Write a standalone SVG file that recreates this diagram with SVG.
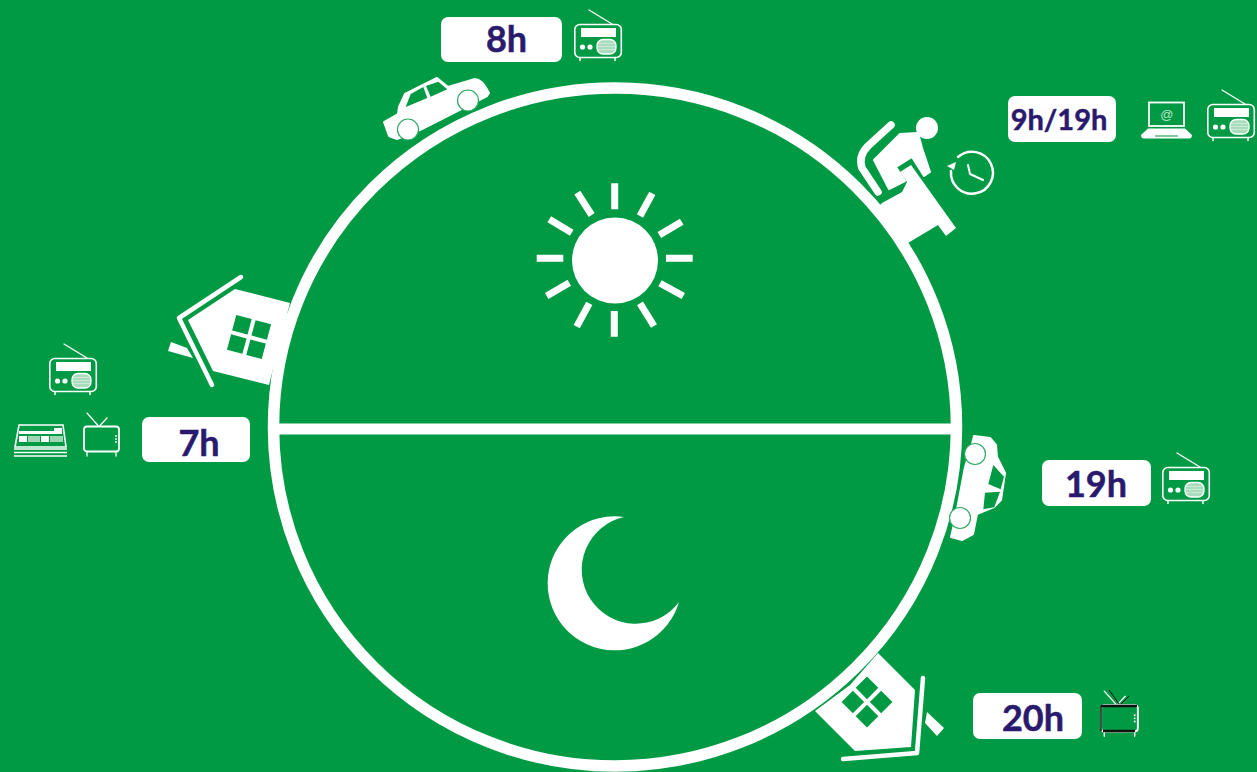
<svg xmlns="http://www.w3.org/2000/svg" width="1257" height="772" viewBox="0 0 1257 772">
<style>
.w{fill:#fff}
.g{fill:#009a44}
.rw{fill:#fff;stroke:#fff;stroke-width:2;stroke-linejoin:round}
.ln{fill:none;stroke:#fff;stroke-linecap:round;stroke-linejoin:round}
.ray{stroke:#fff;stroke-width:7;fill:none}
.wheel{fill:#fff;stroke:#2fa964;stroke-width:1.200}
.box{fill:#fff}
.t{font-family:"Lato","Noto Sans",sans-serif;font-weight:700;fill:#2a1a6e;stroke:#2a1a6e;stroke-width:0.5;stroke-linejoin:round;text-anchor:middle}
</style>
<defs>
<g id="radio">
<path class="ln" stroke-width="1.300" d="M15 0L38 14"/>
<rect x="0.800" y="14.500" width="46.500" height="33" rx="5" fill="none" stroke="#fff" stroke-width="1.600"/>
<rect class="w" x="7" y="18" width="35" height="9"/>
<circle class="w" cx="8.500" cy="37" r="2.600"/><circle class="w" cx="16" cy="37" r="2.600"/>
<rect x="23" y="29.500" width="19" height="14.500" rx="6" fill="#a9dcbd" stroke="#fff" stroke-width="1.300"/>
<path stroke="#e2f4e9" stroke-width="0.600" d="M24 33.500H41M24 36.500H41M24 39.500H41"/>
<path class="ln" stroke-width="1.500" d="M6 48V50.500M41 48V50.500"/>
</g>
<g id="tv">
<path class="ln" stroke-width="1.200" d="M5 1L16 13.500M25 6L18 13.500"/>
<rect x="2" y="14.500" width="35" height="25" rx="3" fill="none" stroke="#fff" stroke-width="1.800"/>
<path class="ln" stroke-width="1.300" d="M5 40V44M34 40V44"/>
<circle class="w" cx="34" cy="24" r="0.900"/><circle class="w" cx="34" cy="27" r="0.900"/><circle class="w" cx="34" cy="30" r="0.900"/>
</g>
</defs>
<rect id="background" width="1257" height="772" class="g"/>

<g id="cycle">
<ellipse cx="615" cy="427" rx="341.500" ry="339" fill="none" stroke="#fff" stroke-width="11.500"/>
<rect class="w" x="278" y="423.500" width="674" height="11"/>
</g>

<g id="sun">
<circle class="w" cx="615" cy="260.500" r="43"/>
<path class="ray" d="M614.700 183.300V209.300M652.300 193.300L640 216M681.700 221.700L659.300 235M692.700 258.300H666M683.300 296L660 283.300M654 326L640 303.300M614.300 336.700V311M576.700 326.700L589.300 303.300M546.700 296L569.300 282.700M536.700 258.300H563.300M549.300 219.300L571.700 232.700M577.300 192.700L591.700 215"/>
</g>

<g id="moon">
<path class="w" d="M624 517A67 67 0 1 0 679 602A54 54 0 1 1 624 517Z"/>
</g>

<g id="node-7h">
<path class="w" d="M235 289L290 303L279 345L269 385L213 371L188 320Z"/>
<g transform="translate(249 337) rotate(15)" class="g">
<rect x="-18" y="-18" width="16" height="16"/><rect x="2" y="-18" width="16" height="16"/>
<rect x="-18" y="2" width="16" height="16"/><rect x="2" y="2" width="16" height="16"/>
</g>
<path class="ln" stroke-width="4.500" d="M241 277L179 318L212 385"/>
<path class="w" d="M171 342L187 348L193 358L168 351Z"/>
<rect class="box" x="142" y="417" width="108" height="45" rx="7"/>
<text class="t" x="199" y="456" font-size="36">7h</text>
<use href="#radio" x="49" y="344"/>
<use href="#tv" x="82" y="412"/>
<g id="printer" fill="none" stroke="#fff">
<path stroke-width="1.600" d="M19 425H63L66 447H15Z"/>
<path stroke-width="1.600" d="M14 449H67M14 452.500H67M14 456H67"/>
<path class="w" stroke="none" d="M19 431H54V434H19ZM54 428H62V434H54ZM19 436H27V442H19ZM41 436H49V442H41Z"/>
<path stroke="none" fill="#9fd6b5" d="M28 436H40V442H28ZM50 436H63V442H50Z"/>
</g>
</g>

<g id="node-8h">
<path class="rw" d="M384 122L398 114L399 107L405 94L437 78L448 87L475 79Q482 79 489 93L487 96L420 130L397 139L389 136Z"/>
<path class="g" d="M405.700 107L410.700 94L423.300 87L427.300 98ZM426 86L438.300 81.700L447.300 89.300L430.700 96.700Z"/>
<circle class="wheel" cx="468" cy="100.500" r="10.500"/>
<circle class="wheel" cx="408" cy="129.500" r="10.500"/>
<rect class="box" x="441" y="17" width="121" height="45" rx="7"/>
<text class="t" x="506.500" y="52" font-size="36">8h</text>
<use href="#radio" x="574" y="10"/>
</g>

<g id="node-work">
<path class="w" d="M882 203L902 192L907 182L900 172L911 165L956 228L946 236L938 225L903 246L878 207Z"/>
<circle class="w" cx="927" cy="128" r="11"/>
<path class="rw" stroke-width="1" d="M900 134L918 133L922 148L930 172L924 176L912 157L896 167L905 181L889 189L874 160Z"/>
<path class="ln" stroke-width="7.500" d="M891 125L868 146Q858 156 862 168L878 192"/>
<g id="clock">
<path class="ln" stroke-width="2.500" d="M958 157A21 21 0 1 1 951 171"/>
<path class="w" d="M947 166L956 162L954 170Z"/>
<path class="ln" stroke-width="2" d="M968 165L970 174L983 180"/>
</g>
<rect class="box" x="1008" y="96" width="108" height="46" rx="7"/>
<text class="t" x="1059" y="130" font-size="29">9h/19h</text>
<g id="laptop">
<rect x="1149" y="102.500" width="35" height="23.500" fill="none" stroke="#fff" stroke-width="1.800"/>
<text x="1166.500" y="119" font-family="Liberation Sans,sans-serif" font-style="italic" font-size="13" fill="#b9e4cb" text-anchor="middle">@</text>
<path class="w" d="M1148 128.500H1185L1192 135Q1192 138.500 1189 138.500H1144Q1141 138.500 1141 135Z"/>
<rect x="1155" y="135" width="23" height="2" fill="#7fc99d"/>
</g>
<use href="#radio" x="1207" y="90"/>
</g>

<g id="node-19h">
<path class="rw" d="M974 436L990 438L996 445L997 457L1005 473L1001 500L994 507L977 514L973 534L962 540L951 537L955 520L965 467L972 444Z"/>
<path class="g" d="M993.300 465L1004 476.700L1000.700 489.300L988.300 484ZM985 492.700L1000 491.700L994.300 507.300L983.300 509.300Z"/>
<circle class="wheel" cx="975" cy="454" r="10.500"/>
<circle class="wheel" cx="960" cy="518" r="10.500"/>
<rect class="box" x="1042" y="460" width="109" height="46" rx="7"/>
<text class="t" x="1096" y="497" font-size="36">19h</text>
<use href="#radio" x="1162" y="453"/>
</g>

<g id="node-20h">
<path class="w" d="M878 653L915 690L911 747L855 751L815 711L850 685Z"/>
<g transform="translate(867 702) rotate(45)" class="g">
<rect x="-18" y="-18" width="16" height="16"/><rect x="2" y="-18" width="16" height="16"/>
<rect x="-18" y="2" width="16" height="16"/><rect x="2" y="2" width="16" height="16"/>
</g>
<path class="ln" stroke-width="4.500" d="M923 678L917 753L843 759"/>
<path class="w" d="M927 712L944 728L937 736L925 723Z"/>
<rect class="box" x="973" y="693" width="109" height="46" rx="7"/>
<text class="t" x="1033" y="731" font-size="36">20h</text>
<g id="tv-dark">
<use href="#tv" transform="translate(1099 690) scale(1.050)"/>
<path d="M1101 706H1137M1103 731H1135" fill="none" stroke="#111" stroke-width="2.500"/>
<path d="M1101 706V731" fill="none" stroke="#111" stroke-width="1.500"/>
<path d="M1109 690L1119 704M1129 696L1121 704" fill="none" stroke="#111" stroke-width="1"/>
</g>
</g>
</svg>
